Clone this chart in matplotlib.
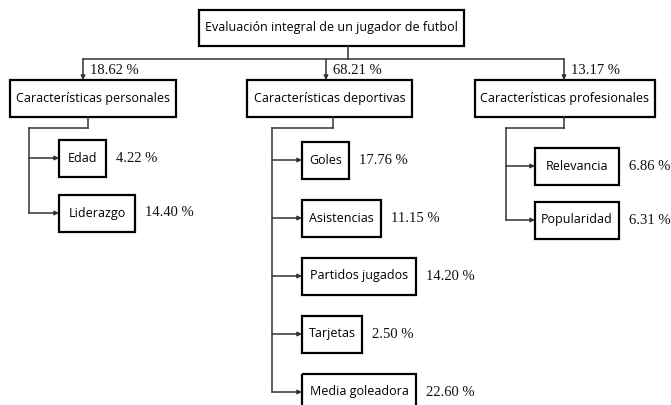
import matplotlib.pyplot as plt
from matplotlib.patches import Rectangle

# data
root = "Evaluación integral de un jugador de futbol"
groups = ["Características personales", "Características deportivas",
          "Características profesionales"]
group_pct = [18.62, 68.21, 13.17]
items = [["Edad", "Liderazgo"],
         ["Goles", "Asistencias", "Partidos jugados", "Tarjetas", "Media goleadora"],
         ["Relevancia", "Popularidad"]]
item_pct = [[4.22, 14.40],
            [17.76, 11.15, 14.20, 2.50, 22.60],
            [6.86, 6.31]]

# layout (pixels, origin top-left)
W, H = 671, 405
root_box = (199, 10, 265, 36)
root_stem_x = 348
bar_y = 59
arrow_x = [83, 326, 564]
grp_left = [10, 247, 475]
grp_w = [166, 165, 180]
grp_top, grp_h = 80, 37
stem_x = [88, 333, 564]
split_y = 128
trunk_x = [29, 272, 506]
child_left = [59, 302, 535]
child_y0 = [158, 160, 166]
child_step = [55, 58, 54]
child_w = [[47, 76], [47, 79, 114, 60, 114], [84, 84]]
child_h = 37
pct_gap = 10

lbl_font = dict(family="Open Sans", size=9, color="black")
pct_font = dict(family="Liberation Serif", size=10.5, color="#111111")
line_kw = dict(color="#333333", lw=1.1)

fig = plt.figure(figsize=(W / 100, H / 100), dpi=100)
ax = fig.add_axes([0, 0, 1, 1])
ax.set_xlim(0, W)
ax.set_ylim(H, 0)
ax.axis("off")


def box(x, y, w, h, text):
    ax.add_patch(Rectangle((x, y), w, h, fill=False, ec="black", lw=1.6))
    ax.text(x + w / 2, y + h / 2, text, ha="center", va="center", **lbl_font)


def arrow(x0, y0, x1, y1):
    ax.annotate("", xy=(x1, y1), xytext=(x0, y0),
                arrowprops=dict(arrowstyle="-|>", mutation_scale=6,
                                shrinkA=0, shrinkB=0, **line_kw))


rx, ry, rw, rh = root_box
box(rx, ry, rw, rh, root)
ax.plot([root_stem_x, root_stem_x], [ry + rh, bar_y], **line_kw)
ax.plot([arrow_x[0], arrow_x[-1]], [bar_y, bar_y], **line_kw)

for g in range(len(groups)):
    arrow(arrow_x[g], bar_y, arrow_x[g], grp_top)
    ax.text(arrow_x[g] + 7, (bar_y + grp_top) / 2 + 1, f"{group_pct[g]:.2f} %",
            ha="left", va="center", **pct_font)
    box(grp_left[g], grp_top, grp_w[g], grp_h, groups[g])

    ys = [child_y0[g] + i * child_step[g] for i in range(len(items[g]))]
    ax.plot([stem_x[g], stem_x[g]], [grp_top + grp_h, split_y], **line_kw)
    ax.plot([stem_x[g], trunk_x[g]], [split_y, split_y], **line_kw)
    ax.plot([trunk_x[g], trunk_x[g]], [split_y, ys[-1]], **line_kw)
    for i, name in enumerate(items[g]):
        y = ys[i]
        arrow(trunk_x[g], y, child_left[g], y)
        w = child_w[g][i]
        box(child_left[g], y - child_h / 2, w, child_h, name)
        ax.text(child_left[g] + w + pct_gap, y, f"{item_pct[g][i]:.2f} %",
                ha="left", va="center", **pct_font)

fig.savefig("out.png", dpi=100)
